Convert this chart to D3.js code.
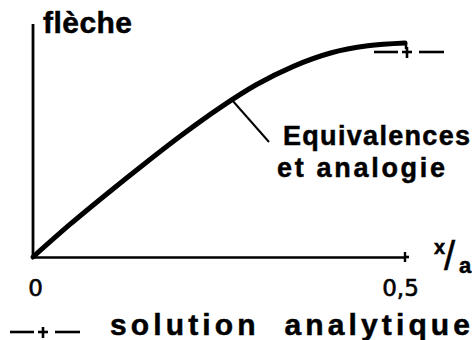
<!DOCTYPE html>
<html>
<head>
<meta charset="utf-8">
<script src="https://cdn.jsdelivr.net/npm/d3@7"></script>
<style>
body { margin: 0; background: #fff; }
text { font-family: "Liberation Sans Narrow", "Liberation Sans", Arial, sans-serif; font-weight: bold; fill: #000; stroke: #000; stroke-width: 0.5px; }
</style>
</head>
<body>
<div id="chart"></div>
<script>
// x/a values and computed deflection (normalised so the analytic value is 1)
var xa = [0, 0.05, 0.1, 0.15, 0.2, 0.25, 0.3, 0.35, 0.4, 0.45, 0.5]
var fleche = [0, 0.16, 0.31, 0.455, 0.595, 0.725, 0.84, 0.93, 0.995, 1.03, 1.044]
// analytic solution at the end of the span
var analyticX = [0.5]
var analyticY = [1.0]
var xTicks = [0, 0.5]
var xTickLabels = ["0", "0,5"]

var svg = d3.select("#chart").append("svg").attr("width", 476).attr("height", 340)

var x = d3.scaleLinear().domain([0, 0.5]).range([33, 405])
var y = d3.scaleLinear().domain([0, 1]).range([257, 52])

// axes
var xAxis = d3.axisBottom(x).tickValues(xTicks).tickSize(0).tickPadding(23)
    .tickFormat(function(d, i) { return xTickLabels[i] })
var gx = svg.append("g").attr("transform", "translate(0," + y(0) + ")").call(xAxis)
gx.attr("font-family", null).attr("font-size", null)
gx.select(".domain").attr("stroke", "#000").attr("stroke-width", 2.6)
gx.selectAll(".tick text").style("font-size", "23px").style("font-family", "'DejaVu Sans', sans-serif")
    .style("font-weight", "normal").style("stroke-width", "0.6px")
    .attr("dx", function(d) { return d == 0 ? 2 : -5 })

// end of x axis, small "+" tick at 0,5
svg.append("line").attr("x1", x(0.5)).attr("x2", x(0.5) + 4).attr("y1", y(0)).attr("y2", y(0))
    .attr("stroke", "#000").attr("stroke-width", 2.6)
svg.append("line").attr("x1", x(0.5)).attr("x2", x(0.5)).attr("y1", y(0) - 5).attr("y2", y(0) + 5)
    .attr("stroke", "#000").attr("stroke-width", 2.4)

// y axis
svg.append("line").attr("x1", x(0)).attr("x2", x(0)).attr("y1", y(0) + 1).attr("y2", 24)
    .attr("stroke", "#000").attr("stroke-width", 2.8)

svg.append("text").attr("x", 43).attr("y", 33).style("font-size", "30px")
    .attr("textLength", 89).attr("lengthAdjust", "spacing").text("flèche")

// x/a label
svg.append("text").attr("x", 434).attr("y", 254).style("font-size", "20px").text("x")
svg.append("text").attr("x", 444).attr("y", 270).style("font-size", "40px").style("font-weight", "normal")
    .style("font-family", "'Liberation Sans', Arial, sans-serif").text("/")
svg.append("text").attr("x", 459).attr("y", 273).style("font-size", "22px").text("a")

// computed curve
var lineGenerator = d3.line()
    .x(function(d, i) { return x(xa[i]) })
    .y(function(d) { return y(d) })
    .curve(d3.curveMonotoneX)

svg.append("path").datum(fleche).attr("d", lineGenerator)
    .attr("fill", "none").attr("stroke", "#000").attr("stroke-width", 5)
    .attr("stroke-linecap", "round")
svg.append("line").attr("x1", x(0.5) + 1).attr("x2", x(0.5) + 1)
    .attr("y1", y(fleche[fleche.length - 1])).attr("y2", y(fleche[fleche.length - 1]) + 6)
    .attr("stroke", "#000").attr("stroke-width", 2.5)

// leader + curve label
svg.append("line").attr("x1", 232).attr("y1", 100).attr("x2", 269).attr("y2", 142)
    .attr("stroke", "#000").attr("stroke-width", 2)
svg.append("text").attr("x", 283).attr("y", 145).style("font-size", "27px")
    .attr("textLength", 187).attr("lengthAdjust", "spacing").text("Equivalences")
svg.append("text").attr("x", 277).attr("y", 177).style("font-size", "27px")
    .attr("textLength", 168).attr("lengthAdjust", "spacing").text("et analogie")

// dash-plus-dash marker
function marker(g, cx, cy) {
    g.append("line").attr("x1", cx - 33).attr("x2", cx - 9).attr("y1", cy).attr("y2", cy)
    g.append("line").attr("x1", cx - 5).attr("x2", cx + 5).attr("y1", cy).attr("y2", cy)
    g.append("line").attr("x1", cx).attr("x2", cx).attr("y1", cy - 5).attr("y2", cy + 6)
    g.append("line").attr("x1", cx + 12).attr("x2", cx + 37).attr("y1", cy).attr("y2", cy)
    g.selectAll("line").attr("stroke", "#000").attr("stroke-width", 2.6)
}

analyticX.forEach(function(d, i) {
    marker(svg.append("g"), x(d) + 2, y(analyticY[i]))
})

// legend
marker(svg.append("g"), 43, 332)
svg.append("text").attr("x", 110).attr("y", 335).style("font-size", "30px")
    .attr("textLength", 360).attr("lengthAdjust", "spacing")
    .style("white-space", "pre").text("solution  analytique")
</script>
</body>
</html>
